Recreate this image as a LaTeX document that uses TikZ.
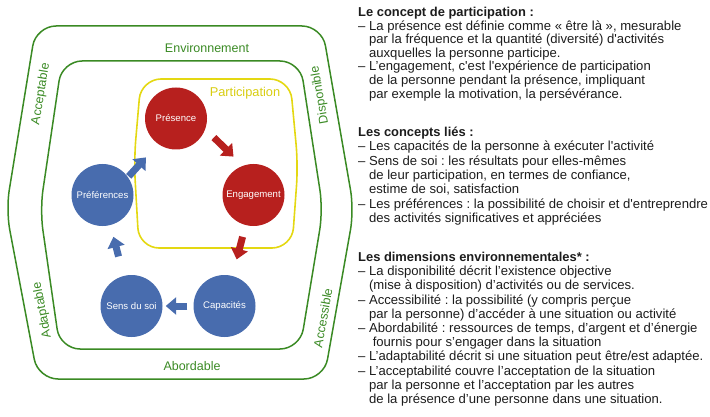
\documentclass[tikz,border=0pt]{standalone}
\usepackage{fontspec}
\newfontfamily\lsans{Liberation Sans}
\usetikzlibrary{arrows.meta}
\definecolor{envgreen}{RGB}{58,138,36}
\definecolor{partyellow}{RGB}{228,216,18}
\definecolor{cred}{RGB}{183,32,30}
\definecolor{cblue}{RGB}{72,108,174}
\definecolor{textc}{RGB}{28,28,28}
\frenchspacing
\begin{document}
\begin{tikzpicture}[x=1pt,y=-1pt,
  grnline/.style={draw=envgreen,line width=1.5pt,rounded corners=20pt},
  ylwline/.style={draw=partyellow,line width=1.6pt,rounded corners=20pt},
  grnlab/.style={text=envgreen,inner sep=0pt,font=\lsans\fontsize{12.5}{14}\selectfont},
  ylwlab/.style={text=partyellow!95!black,inner sep=0pt,font=\lsans\fontsize{12.8}{14}\selectfont},
  circ/.style={circle,minimum size=62pt,inner sep=0pt,text=white,font=\lsans\fontsize{9.6}{11}\selectfont},
  redc/.style={circ,fill=cred},
  bluec/.style={circ,fill=cblue},
  redarr/.style={draw=cred,line width=7pt,-{Triangle[width=17pt,length=10.5pt]}},
  bluearr/.style={draw=cblue,line width=7pt,-{Triangle[width=17pt,length=10.5pt]}},
  txt/.style={anchor=base west,inner sep=0pt,text=textc,font=\lsans\fontsize{13.1}{14}\selectfont},
  hd/.style={txt,font=\lsans\bfseries\fontsize{12.9}{14}\selectfont}]
\useasboundingbox (0,0) rectangle (710,417);
% environment shapes
\draw[grnline] (36,26) -- (322,26) -- (354,210) -- (324,379) -- (38,379) -- (6,210) -- cycle;
\draw[grnline] (62,61) -- (300,61) -- (323,210) -- (300,349) -- (60,349) -- (40,210) -- cycle;
\draw[ylwline] (141,79) -- (290,79) -- (298,165) -- (292,248) -- (139,248) -- (134,160) -- cycle;
% labels
\node[grnlab] (envl) at (207,48) {Environnement};
\node[grnlab] (abol) at (192,366) {Abordable};
\node[grnlab,rotate=80.7] (accl) at (41,94) {Acceptable};
\node[grnlab,rotate=100.7] (adal) at (42.5,310) {Adaptable};
\node[grnlab,rotate=99.9] (disl) at (320,95) {Disponible};
\node[grnlab,rotate=79.9] (acsl) at (323,318) {Accessible};
\node[ylwlab] (partl) at (245,93) {Participation};
% circles
\node[redc] (pres) at (176,118.5) {Présence};
\node[redc] (eng) at (253.5,195) {Engagement};
\node[bluec] (pref) at (102.5,195) {Préférences};
\node[bluec] (sens) at (131.5,306) {Sens du soi};
\node[bluec] (cap) at (224.5,306) {Capacités};
% arrows
\draw[redarr,shorten <=12pt,shorten >=13pt] (pres.-20) -- (eng.110);
\draw[redarr,shorten <=12pt,shorten >=17pt] (eng) -- (cap);
\draw[bluearr,shorten <=6pt,shorten >=3pt] (cap) -- (sens);
\draw[bluearr,shorten <=20pt,shorten >=12pt] (sens) -- (pref);
\draw[bluearr,shorten <=1pt,shorten >=18pt] (pref.35) -- (pres.235);
% text block 1
\node[hd] (a1) at (358,16.5) {Le concept de participation :};
\node[txt] (a2) at (358,30.1) {– La présence est définie comme « être là », mesurable};
\node[txt] (a3) at (358,43.7) {\phantom{– }par la fréquence et la quantité (diversité) d'activités};
\node[txt] (a4) at (358,57.3) {\phantom{– }auxquelles la personne participe.};
\node[txt] (a5) at (358,70.9) {– L’engagement, c'est l'expérience de participation};
\node[txt] (a6) at (358,84.5) {\phantom{– }de la personne pendant la présence, impliquant};
\node[txt] (a7) at (358,98.1) {\phantom{– }par exemple la motivation, la persévérance.};
% text block 2
\node[hd] (b1) at (358,136.5) {Les concepts liés :};
\node[txt] (b2) at (358,150.8) {– Les capacités de la personne à exécuter l'activité};
\node[txt] (b3) at (358,165.1) {– Sens de soi : les résultats pour elles-mêmes};
\node[txt] (b4) at (358,179.4) {\phantom{– }de leur participation, en termes de confiance,};
\node[txt] (b5) at (358,193.7) {\phantom{– }estime de soi, satisfaction};
\node[txt] (b6) at (358,208.0) {– Les préférences : la possibilité de choisir et d'entreprendre};
\node[txt] (b7) at (358,222.3) {\phantom{– }des activités significatives et appréciées};
% text block 3
\node[hd] (c1) at (358,261.5) {Les dimensions environnementales* :};
\node[txt] (c2) at (358,275.7) {– La disponibilité décrit l’existence objective};
\node[txt] (c3) at (358,289.9) {\phantom{– }(mise à disposition) d’activités ou de services.};
\node[txt] (c4) at (358,304.1) {– Accessibilité : la possibilité (y compris perçue};
\node[txt] (c5) at (358,318.3) {\phantom{– }par la personne) d’accéder à une situation ou activité};
\node[txt] (c6) at (358,332.5) {– Abordabilité : ressources de temps, d’argent et d’énergie};
\node[txt] (c7) at (358,346.7) {\phantom{– }\ fournis pour s’engager dans la situation};
\node[txt] (c8) at (358,360.9) {– L’adaptabilité décrit si une situation peut être/est adaptée.};
\node[txt] (c9) at (358,375.1) {– L’acceptabilité couvre l’acceptation de la situation};
\node[txt] (c10) at (358,389.3) {\phantom{– }par la personne et l’acceptation par les autres};
\node[txt] (c11) at (358,403.5) {\phantom{– }de la présence d’une personne dans une situation.};
\end{tikzpicture}
\end{document}
